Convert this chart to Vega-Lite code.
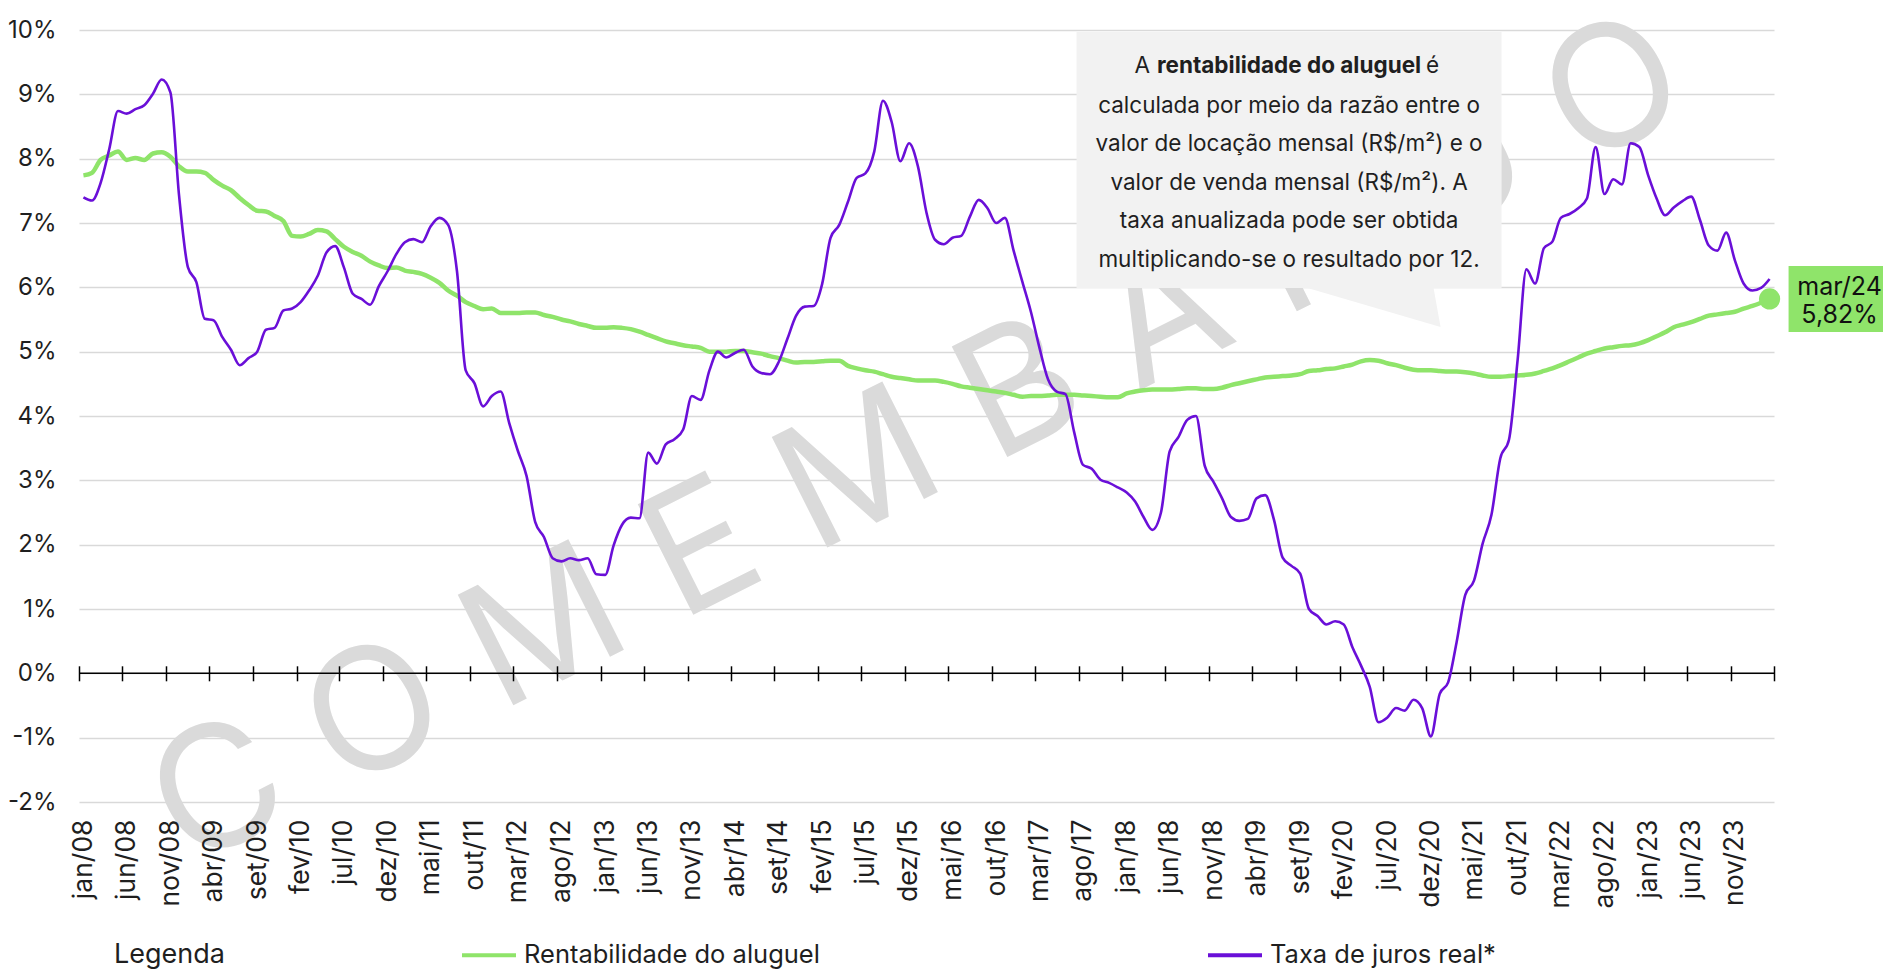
{
  "$schema": "https://vega.github.io/schema/vega-lite/v6.json",
  "width": 1695,
  "height": 772,
  "autosize": {"type": "none"},
  "padding": {"left": 79, "top": 30, "right": 109, "bottom": 167},
  "background": "white",
  "config": {"font": "Inter", "view": {"stroke": null}},
  "data": {"values": [
    {"mes":"2008-01","aluguel":7.74,"juros":7.40},{"mes":"2008-02","aluguel":7.78,"juros":7.35},{"mes":"2008-03","aluguel":7.98,"juros":7.62},{"mes":"2008-04","aluguel":8.05,"juros":8.15},{"mes":"2008-05","aluguel":8.11,"juros":8.74},{"mes":"2008-06","aluguel":7.98,"juros":8.70},{"mes":"2008-07","aluguel":8.01,"juros":8.77},{"mes":"2008-08","aluguel":7.98,"juros":8.83},{"mes":"2008-09","aluguel":8.08,"juros":9.01},{"mes":"2008-10","aluguel":8.10,"juros":9.23},{"mes":"2008-11","aluguel":8.03,"juros":9.03},{"mes":"2008-12","aluguel":7.88,"juros":7.42},
    {"mes":"2009-01","aluguel":7.80,"juros":6.31},{"mes":"2009-02","aluguel":7.80,"juros":6.08},{"mes":"2009-03","aluguel":7.78,"juros":5.51},{"mes":"2009-04","aluguel":7.67,"juros":5.49},{"mes":"2009-05","aluguel":7.58,"juros":5.23},{"mes":"2009-06","aluguel":7.51,"juros":5.03},{"mes":"2009-07","aluguel":7.39,"juros":4.79},{"mes":"2009-08","aluguel":7.28,"juros":4.90},{"mes":"2009-09","aluguel":7.19,"juros":5.00},{"mes":"2009-10","aluguel":7.18,"juros":5.34},{"mes":"2009-11","aluguel":7.11,"juros":5.37},{"mes":"2009-12","aluguel":7.03,"juros":5.64},
    {"mes":"2010-01","aluguel":6.80,"juros":5.67},{"mes":"2010-02","aluguel":6.79,"juros":5.77},{"mes":"2010-03","aluguel":6.83,"juros":5.95},{"mes":"2010-04","aluguel":6.89,"juros":6.18},{"mes":"2010-05","aluguel":6.87,"juros":6.54},{"mes":"2010-06","aluguel":6.75,"juros":6.64},{"mes":"2010-07","aluguel":6.63,"juros":6.31},{"mes":"2010-08","aluguel":6.55,"juros":5.90},{"mes":"2010-09","aluguel":6.49,"juros":5.82},{"mes":"2010-10","aluguel":6.40,"juros":5.73},{"mes":"2010-11","aluguel":6.34,"juros":6.02},{"mes":"2010-12","aluguel":6.30,"juros":6.25},
    {"mes":"2011-01","aluguel":6.31,"juros":6.52},{"mes":"2011-02","aluguel":6.26,"juros":6.70},{"mes":"2011-03","aluguel":6.24,"juros":6.75},{"mes":"2011-04","aluguel":6.21,"juros":6.70},{"mes":"2011-05","aluguel":6.15,"juros":6.95},{"mes":"2011-06","aluguel":6.07,"juros":7.08},{"mes":"2011-07","aluguel":5.95,"juros":6.97},{"mes":"2011-08","aluguel":5.87,"juros":6.25},{"mes":"2011-09","aluguel":5.77,"juros":4.71},{"mes":"2011-10","aluguel":5.71,"juros":4.51},{"mes":"2011-11","aluguel":5.66,"juros":4.15},{"mes":"2011-12","aluguel":5.67,"juros":4.31},
    {"mes":"2012-01","aluguel":5.60,"juros":4.38},{"mes":"2012-02","aluguel":5.60,"juros":3.89},{"mes":"2012-03","aluguel":5.60,"juros":3.46},{"mes":"2012-04","aluguel":5.61,"juros":3.07},{"mes":"2012-05","aluguel":5.61,"juros":2.35},{"mes":"2012-06","aluguel":5.57,"juros":2.12},{"mes":"2012-07","aluguel":5.54,"juros":1.79},{"mes":"2012-08","aluguel":5.50,"juros":1.74},{"mes":"2012-09","aluguel":5.47,"juros":1.79},{"mes":"2012-10","aluguel":5.43,"juros":1.76},{"mes":"2012-11","aluguel":5.40,"juros":1.79},{"mes":"2012-12","aluguel":5.37,"juros":1.54},
    {"mes":"2013-01","aluguel":5.37,"juros":1.53},{"mes":"2013-02","aluguel":5.38,"juros":1.99},{"mes":"2013-03","aluguel":5.37,"juros":2.31},{"mes":"2013-04","aluguel":5.35,"juros":2.42},{"mes":"2013-05","aluguel":5.31,"juros":2.41},{"mes":"2013-06","aluguel":5.26,"juros":3.43},{"mes":"2013-07","aluguel":5.21,"juros":3.26},{"mes":"2013-08","aluguel":5.16,"juros":3.56},{"mes":"2013-09","aluguel":5.13,"juros":3.64},{"mes":"2013-10","aluguel":5.10,"juros":3.79},{"mes":"2013-11","aluguel":5.08,"juros":4.31},{"mes":"2013-12","aluguel":5.06,"juros":4.25},
    {"mes":"2014-01","aluguel":5.00,"juros":4.71},{"mes":"2014-02","aluguel":5.00,"juros":5.00},{"mes":"2014-03","aluguel":5.00,"juros":4.91},{"mes":"2014-04","aluguel":5.01,"juros":4.98},{"mes":"2014-05","aluguel":5.01,"juros":5.03},{"mes":"2014-06","aluguel":4.99,"juros":4.77},{"mes":"2014-07","aluguel":4.97,"juros":4.67},{"mes":"2014-08","aluguel":4.93,"juros":4.65},{"mes":"2014-09","aluguel":4.90,"juros":4.84},{"mes":"2014-10","aluguel":4.86,"juros":5.20},{"mes":"2014-11","aluguel":4.83,"juros":5.56},{"mes":"2014-12","aluguel":4.84,"juros":5.70},
    {"mes":"2015-01","aluguel":4.84,"juros":5.71},{"mes":"2015-02","aluguel":4.85,"juros":6.05},{"mes":"2015-03","aluguel":4.86,"juros":6.77},{"mes":"2015-04","aluguel":4.86,"juros":6.97},{"mes":"2015-05","aluguel":4.78,"juros":7.33},{"mes":"2015-06","aluguel":4.74,"juros":7.70},{"mes":"2015-07","aluguel":4.71,"juros":7.77},{"mes":"2015-08","aluguel":4.69,"juros":8.11},{"mes":"2015-09","aluguel":4.65,"juros":8.90},{"mes":"2015-10","aluguel":4.61,"juros":8.57},{"mes":"2015-11","aluguel":4.59,"juros":7.96},{"mes":"2015-12","aluguel":4.57,"juros":8.24},
    {"mes":"2016-01","aluguel":4.55,"juros":7.88},{"mes":"2016-02","aluguel":4.55,"juros":7.16},{"mes":"2016-03","aluguel":4.55,"juros":6.74},{"mes":"2016-04","aluguel":4.53,"juros":6.67},{"mes":"2016-05","aluguel":4.50,"juros":6.77},{"mes":"2016-06","aluguel":4.46,"juros":6.80},{"mes":"2016-07","aluguel":4.44,"juros":7.10},{"mes":"2016-08","aluguel":4.42,"juros":7.36},{"mes":"2016-09","aluguel":4.40,"juros":7.23},{"mes":"2016-10","aluguel":4.38,"juros":7.00},{"mes":"2016-11","aluguel":4.36,"juros":7.08},{"mes":"2016-12","aluguel":4.33,"juros":6.57},
    {"mes":"2017-01","aluguel":4.30,"juros":6.08},{"mes":"2017-02","aluguel":4.31,"juros":5.62},{"mes":"2017-03","aluguel":4.31,"juros":5.07},{"mes":"2017-04","aluguel":4.32,"juros":4.57},{"mes":"2017-05","aluguel":4.33,"juros":4.38},{"mes":"2017-06","aluguel":4.33,"juros":4.34},{"mes":"2017-07","aluguel":4.33,"juros":3.75},{"mes":"2017-08","aluguel":4.32,"juros":3.24},{"mes":"2017-09","aluguel":4.31,"juros":3.18},{"mes":"2017-10","aluguel":4.30,"juros":3.01},{"mes":"2017-11","aluguel":4.29,"juros":2.96},{"mes":"2017-12","aluguel":4.29,"juros":2.89},
    {"mes":"2018-01","aluguel":4.35,"juros":2.81},{"mes":"2018-02","aluguel":4.38,"juros":2.67},{"mes":"2018-03","aluguel":4.40,"juros":2.43},{"mes":"2018-04","aluguel":4.41,"juros":2.23},{"mes":"2018-05","aluguel":4.41,"juros":2.50},{"mes":"2018-06","aluguel":4.41,"juros":3.45},{"mes":"2018-07","aluguel":4.42,"juros":3.67},{"mes":"2018-08","aluguel":4.43,"juros":3.94},{"mes":"2018-09","aluguel":4.43,"juros":4.00},{"mes":"2018-10","aluguel":4.42,"juros":3.23},{"mes":"2018-11","aluguel":4.42,"juros":2.98},{"mes":"2018-12","aluguel":4.44,"juros":2.72},
    {"mes":"2019-01","aluguel":4.48,"juros":2.43},{"mes":"2019-02","aluguel":4.51,"juros":2.37},{"mes":"2019-03","aluguel":4.54,"juros":2.40},{"mes":"2019-04","aluguel":4.57,"juros":2.72},{"mes":"2019-05","aluguel":4.60,"juros":2.77},{"mes":"2019-06","aluguel":4.61,"juros":2.39},{"mes":"2019-07","aluguel":4.62,"juros":1.80},{"mes":"2019-08","aluguel":4.63,"juros":1.67},{"mes":"2019-09","aluguel":4.65,"juros":1.55},{"mes":"2019-10","aluguel":4.70,"juros":1.00},{"mes":"2019-11","aluguel":4.71,"juros":0.89},{"mes":"2019-12","aluguel":4.73,"juros":0.76},
    {"mes":"2020-01","aluguel":4.74,"juros":0.81},{"mes":"2020-02","aluguel":4.77,"juros":0.76},{"mes":"2020-03","aluguel":4.80,"juros":0.41},{"mes":"2020-04","aluguel":4.85,"juros":0.12},{"mes":"2020-05","aluguel":4.87,"juros":-0.21},{"mes":"2020-06","aluguel":4.86,"juros":-0.76},{"mes":"2020-07","aluguel":4.82,"juros":-0.69},{"mes":"2020-08","aluguel":4.79,"juros":-0.54},{"mes":"2020-09","aluguel":4.75,"juros":-0.58},{"mes":"2020-10","aluguel":4.72,"juros":-0.41},{"mes":"2020-11","aluguel":4.71,"juros":-0.54},{"mes":"2020-12","aluguel":4.71,"juros":-0.98},
    {"mes":"2021-01","aluguel":4.70,"juros":-0.32},{"mes":"2021-02","aluguel":4.69,"juros":-0.14},{"mes":"2021-03","aluguel":4.69,"juros":0.48},{"mes":"2021-04","aluguel":4.68,"juros":1.22},{"mes":"2021-05","aluguel":4.66,"juros":1.44},{"mes":"2021-06","aluguel":4.63,"juros":2.02},{"mes":"2021-07","aluguel":4.61,"juros":2.46},{"mes":"2021-08","aluguel":4.61,"juros":3.34},{"mes":"2021-09","aluguel":4.62,"juros":3.63},{"mes":"2021-10","aluguel":4.63,"juros":4.88},{"mes":"2021-11","aluguel":4.64,"juros":6.28},{"mes":"2021-12","aluguel":4.66,"juros":6.06},
    {"mes":"2022-01","aluguel":4.70,"juros":6.61},{"mes":"2022-02","aluguel":4.74,"juros":6.71},{"mes":"2022-03","aluguel":4.79,"juros":7.08},{"mes":"2022-04","aluguel":4.85,"juros":7.14},{"mes":"2022-05","aluguel":4.91,"juros":7.23},{"mes":"2022-06","aluguel":4.97,"juros":7.38},{"mes":"2022-07","aluguel":5.01,"juros":8.18},{"mes":"2022-08","aluguel":5.05,"juros":7.45},{"mes":"2022-09","aluguel":5.07,"juros":7.68},{"mes":"2022-10","aluguel":5.09,"juros":7.60},{"mes":"2022-11","aluguel":5.10,"juros":8.24},{"mes":"2022-12","aluguel":5.13,"juros":8.18},
    {"mes":"2023-01","aluguel":5.18,"juros":7.74},{"mes":"2023-02","aluguel":5.24,"juros":7.38},{"mes":"2023-03","aluguel":5.30,"juros":7.12},{"mes":"2023-04","aluguel":5.38,"juros":7.24},{"mes":"2023-05","aluguel":5.42,"juros":7.34},{"mes":"2023-06","aluguel":5.46,"juros":7.41},{"mes":"2023-07","aluguel":5.51,"juros":7.05},{"mes":"2023-08","aluguel":5.56,"juros":6.65},{"mes":"2023-09","aluguel":5.58,"juros":6.57},{"mes":"2023-10","aluguel":5.60,"juros":6.85},{"mes":"2023-11","aluguel":5.62,"juros":6.42},{"mes":"2023-12","aluguel":5.67,"juros":6.06},
    {"mes":"2024-01","aluguel":5.71,"juros":5.95},{"mes":"2024-02","aluguel":5.76,"juros":5.99},{"mes":"2024-03","aluguel":5.82,"juros":6.13}
  ]},
  "layer": [
    {
      "data": {"values": [{}]},
      "mark": {"type": "text", "text": "C O M E M B A R G O", "fontSize": 170, "font": "Inter", "fontWeight": 400, "angle": 333.3, "color": "#dadada", "align": "center", "baseline": "middle"},
      "encoding": {
        "x": {"datum": {"year": 2016, "month": 1, "date": 20, "utc": true}, "type": "temporal",
              "scale": {"type": "utc", "nice": false, "domain": [{"year": 2008, "month": 1, "date": 1, "utc": true}, {"year": 2024, "month": 4, "date": 1, "utc": true}]},
              "axis": {"title": null, "orient": "bottom", "zindex": 1, "labels": false, "domain": false, "grid": false, "ticks": true, "tickSize": 15, "tickColor": "#000000", "tickWidth": 1.5, "offset": -136.2,
                "values": [{"year":2008,"month":1,"date":1,"utc":true},{"year":2008,"month":6,"date":1,"utc":true},{"year":2008,"month":11,"date":1,"utc":true},{"year":2009,"month":4,"date":1,"utc":true},{"year":2009,"month":9,"date":1,"utc":true},{"year":2010,"month":2,"date":1,"utc":true},{"year":2010,"month":7,"date":1,"utc":true},{"year":2010,"month":12,"date":1,"utc":true},{"year":2011,"month":5,"date":1,"utc":true},{"year":2011,"month":10,"date":1,"utc":true},{"year":2012,"month":3,"date":1,"utc":true},{"year":2012,"month":8,"date":1,"utc":true},{"year":2013,"month":1,"date":1,"utc":true},{"year":2013,"month":6,"date":1,"utc":true},{"year":2013,"month":11,"date":1,"utc":true},{"year":2014,"month":4,"date":1,"utc":true},{"year":2014,"month":9,"date":1,"utc":true},{"year":2015,"month":2,"date":1,"utc":true},{"year":2015,"month":7,"date":1,"utc":true},{"year":2015,"month":12,"date":1,"utc":true},{"year":2016,"month":5,"date":1,"utc":true},{"year":2016,"month":10,"date":1,"utc":true},{"year":2017,"month":3,"date":1,"utc":true},{"year":2017,"month":8,"date":1,"utc":true},{"year":2018,"month":1,"date":1,"utc":true},{"year":2018,"month":6,"date":1,"utc":true},{"year":2018,"month":11,"date":1,"utc":true},{"year":2019,"month":4,"date":1,"utc":true},{"year":2019,"month":9,"date":1,"utc":true},{"year":2020,"month":2,"date":1,"utc":true},{"year":2020,"month":7,"date":1,"utc":true},{"year":2020,"month":12,"date":1,"utc":true},{"year":2021,"month":5,"date":1,"utc":true},{"year":2021,"month":10,"date":1,"utc":true},{"year":2022,"month":3,"date":1,"utc":true},{"year":2022,"month":8,"date":1,"utc":true},{"year":2023,"month":1,"date":1,"utc":true},{"year":2023,"month":6,"date":1,"utc":true},{"year":2023,"month":11,"date":1,"utc":true},{"year":2024,"month":4,"date":1,"utc":true}]}},
        "y": {"datum": 3.56, "type": "quantitative"}
      }
    },
    {
      "data": {"values": [{}]},
      "mark": {"type": "rule", "color": "#000000", "strokeWidth": 1.5},
      "encoding": {
        "y": {"datum": 0, "type": "quantitative",
              "scale": {"domain": [-2, 10], "nice": false, "zero": false},
              "axis": {"title": null, "orient": "left", "values": [-2, -1, 0, 1, 2, 3, 4, 5, 6, 7, 8, 9, 10], "labelExpr": "datum.value + '%'", "grid": true, "gridColor": "#d9d9d9", "gridWidth": 1.5, "domain": false, "ticks": false, "labelPadding": 23, "labelFontSize": 24, "labelFont": "Inter", "labelColor": "#1f1f1f"}}
      }
    },
    {
      "data": {"values": [{}]},
      "mark": {"type": "point", "shape": "M -2.125 -1.28 L 2.125 -1.28 L 2.125 1.28 L 1.445 1.28 L 1.515 1.67 L 0.185 1.28 L -2.125 1.28 Z", "size": 40000, "filled": true, "opacity": 1, "color": "#f2f2f2", "strokeWidth": 0},
      "encoding": {
        "x": {"datum": {"year": 2019, "month": 8, "date": 8, "utc": true}, "type": "temporal", "axis": null},
        "y": {"datum": 7.98, "type": "quantitative"}
      }
    },
    {
      "data": {"values": [{}]},
      "mark": {"type": "text", "text": "rentabilidade do aluguel", "fontSize": 22.5, "fontWeight": "bold", "font": "Inter", "color": "#1f1f1f", "align": "center", "baseline": "middle", "dy": -94},
      "encoding": {
        "x": {"datum": {"year": 2019, "month": 8, "date": 8, "utc": true}, "type": "temporal", "axis": null},
        "y": {"datum": 7.98, "type": "quantitative"}
      }
    },
    {
      "data": {"values": [{}]},
      "mark": {"type": "text", "text": "A", "fontSize": 22.5, "font": "Inter", "color": "#1f1f1f", "align": "right", "baseline": "middle", "dy": -94, "dx": -139},
      "encoding": {
        "x": {"datum": {"year": 2019, "month": 8, "date": 8, "utc": true}, "type": "temporal", "axis": null},
        "y": {"datum": 7.98, "type": "quantitative"}
      }
    },
    {
      "data": {"values": [{}]},
      "mark": {"type": "text", "text": "é", "fontSize": 22.5, "font": "Inter", "color": "#1f1f1f", "align": "left", "baseline": "middle", "dy": -94, "dx": 137},
      "encoding": {
        "x": {"datum": {"year": 2019, "month": 8, "date": 8, "utc": true}, "type": "temporal", "axis": null},
        "y": {"datum": 7.98, "type": "quantitative"}
      }
    },
    {
      "data": {"values": [{}]},
      "mark": {"type": "text", "text": ["calculada por meio da razão entre o", "valor de locação mensal (R$/m²) e o", "valor de venda mensal (R$/m²).  A", "taxa anualizada pode ser obtida", "multiplicando-se  o resultado por 12."], "lineHeight": 38.4, "fontSize": 22.5, "font": "Inter", "color": "#1f1f1f", "align": "center", "baseline": "middle", "dy": -54},
      "encoding": {
        "x": {"datum": {"year": 2019, "month": 8, "date": 8, "utc": true}, "type": "temporal", "axis": null},
        "y": {"datum": 7.98, "type": "quantitative"}
      }
    },
    {
      "mark": {"type": "line", "strokeWidth": 4.5, "interpolate": "monotone"},
      "encoding": {
        "x": {"field": "mes", "timeUnit": "utcyearmonth", "type": "temporal", "bandPosition": 0.5,
              "scale": {"type": "utc", "nice": false, "domain": [{"year": 2008, "month": 1, "date": 1, "utc": true}, {"year": 2024, "month": 4, "date": 1, "utc": true}]},
              "axis": {"title": null, "orient": "bottom", "zindex": 1, "ticks": false, "domain": false, "grid": false, "labelAngle": 270, "labelAlign": "right", "labelBaseline": "middle", "labelPadding": 17, "labelFontSize": 26.5, "labelFont": "Inter", "labelColor": "#1f1f1f", "labelOverlap": false, "labelFlush": false, "labelBound": false,
                "labelExpr": "['jan','fev','mar','abr','mai','jun','jul','ago','set','out','nov','dez'][utcmonth(datum.value)] + '/' + utcFormat(datum.value, '%y')",
                "values": [{"year":2008,"month":1,"date":16,"utc":true},{"year":2008,"month":6,"date":16,"utc":true},{"year":2008,"month":11,"date":16,"utc":true},{"year":2009,"month":4,"date":16,"utc":true},{"year":2009,"month":9,"date":16,"utc":true},{"year":2010,"month":2,"date":15,"utc":true},{"year":2010,"month":7,"date":16,"utc":true},{"year":2010,"month":12,"date":16,"utc":true},{"year":2011,"month":5,"date":16,"utc":true},{"year":2011,"month":10,"date":16,"utc":true},{"year":2012,"month":3,"date":16,"utc":true},{"year":2012,"month":8,"date":16,"utc":true},{"year":2013,"month":1,"date":16,"utc":true},{"year":2013,"month":6,"date":16,"utc":true},{"year":2013,"month":11,"date":16,"utc":true},{"year":2014,"month":4,"date":16,"utc":true},{"year":2014,"month":9,"date":16,"utc":true},{"year":2015,"month":2,"date":15,"utc":true},{"year":2015,"month":7,"date":16,"utc":true},{"year":2015,"month":12,"date":16,"utc":true},{"year":2016,"month":5,"date":16,"utc":true},{"year":2016,"month":10,"date":16,"utc":true},{"year":2017,"month":3,"date":16,"utc":true},{"year":2017,"month":8,"date":16,"utc":true},{"year":2018,"month":1,"date":16,"utc":true},{"year":2018,"month":6,"date":16,"utc":true},{"year":2018,"month":11,"date":16,"utc":true},{"year":2019,"month":4,"date":16,"utc":true},{"year":2019,"month":9,"date":16,"utc":true},{"year":2020,"month":2,"date":15,"utc":true},{"year":2020,"month":7,"date":16,"utc":true},{"year":2020,"month":12,"date":16,"utc":true},{"year":2021,"month":5,"date":16,"utc":true},{"year":2021,"month":10,"date":16,"utc":true},{"year":2022,"month":3,"date":16,"utc":true},{"year":2022,"month":8,"date":16,"utc":true},{"year":2023,"month":1,"date":16,"utc":true},{"year":2023,"month":6,"date":16,"utc":true},{"year":2023,"month":11,"date":16,"utc":true}]}},
        "y": {"field": "aluguel", "type": "quantitative", "scale": {"domain": [-2, 10], "nice": false, "zero": false}},
        "color": {"datum": "Rentabilidade do aluguel", "type": "nominal",
                  "scale": {"domain": ["Rentabilidade do aluguel", "Taxa de juros real*"], "range": ["#8fe46a", "#6a0fd8"]},
                  "legend": {"orient": "none", "legendX": 35, "legendY": 896, "padding": 0, "direction": "horizontal", "title": "Legenda", "titleOrient": "left", "titleAnchor": "end", "titleBaseline": "bottom", "titleFontSize": 27, "titleFontWeight": "normal", "titleFont": "Inter", "titleColor": "#1f1f1f", "labelFont": "Inter", "labelFontSize": 25.5, "labelColor": "#1f1f1f", "labelLimit": 600, "symbolType": "stroke", "symbolSize": 2916, "symbolStrokeWidth": 4, "titlePadding": 235, "columnPadding": 380, "labelOffset": 6}}
      }
    },
    {
      "mark": {"type": "line", "strokeWidth": 2.6, "interpolate": "monotone"},
      "encoding": {
        "x": {"field": "mes", "timeUnit": "utcyearmonth", "type": "temporal", "bandPosition": 0.5, "axis": null},
        "y": {"field": "juros", "type": "quantitative"},
        "color": {"datum": "Taxa de juros real*", "type": "nominal"}
      }
    },
    {
      "transform": [{"filter": "utcyear(datum.mes) == 2024 && utcmonth(datum.mes) == 2"}],
      "mark": {"type": "point", "filled": true, "opacity": 1, "size": 450, "color": "#8fe46a"},
      "encoding": {
        "x": {"field": "mes", "timeUnit": "utcyearmonth", "type": "temporal", "bandPosition": 0.5, "axis": null},
        "y": {"field": "aluguel", "type": "quantitative"}
      }
    },
    {
      "transform": [{"filter": "utcyear(datum.mes) == 2024 && utcmonth(datum.mes) == 2"}],
      "mark": {"type": "point", "shape": "M 0.19 -0.33 L 1.4 -0.33 L 1.4 0.33 L 0.19 0.33 Z", "size": 40000, "filled": true, "opacity": 1, "color": "#8fe46a", "strokeWidth": 0},
      "encoding": {
        "x": {"field": "mes", "timeUnit": "utcyearmonth", "type": "temporal", "bandPosition": 0.5, "axis": null},
        "y": {"field": "aluguel", "type": "quantitative"}
      }
    },
    {
      "transform": [{"filter": "utcyear(datum.mes) == 2024 && utcmonth(datum.mes) == 2"}],
      "mark": {"type": "text", "text": "mar/24", "fontSize": 25, "font": "Inter", "color": "#111111", "align": "center", "baseline": "middle", "dx": 70, "dy": -12},
      "encoding": {
        "x": {"field": "mes", "timeUnit": "utcyearmonth", "type": "temporal", "bandPosition": 0.5, "axis": null},
        "y": {"field": "aluguel", "type": "quantitative"}
      }
    },
    {
      "transform": [{"filter": "utcyear(datum.mes) == 2024 && utcmonth(datum.mes) == 2"}],
      "mark": {"type": "text", "text": "5,82%", "fontSize": 25, "font": "Inter", "color": "#111111", "align": "center", "baseline": "middle", "dx": 70, "dy": 16},
      "encoding": {
        "x": {"field": "mes", "timeUnit": "utcyearmonth", "type": "temporal", "bandPosition": 0.5, "axis": null},
        "y": {"field": "aluguel", "type": "quantitative"}
      }
    }
  ],
  "resolve": {"axis": {"x": "independent"}}
}
